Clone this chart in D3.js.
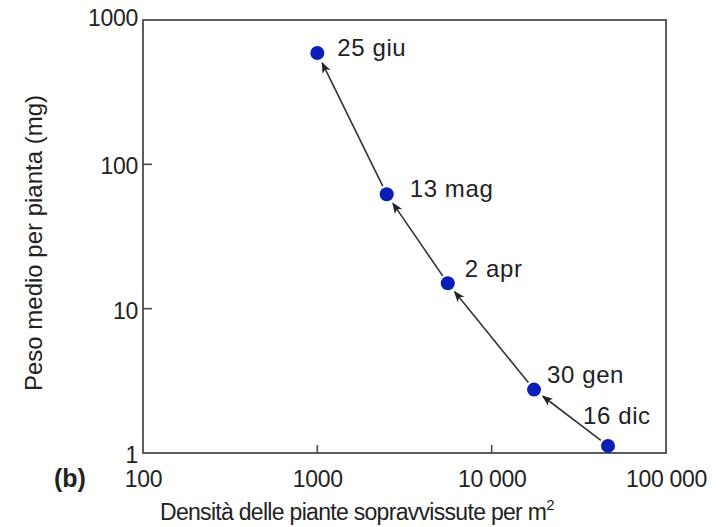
<!DOCTYPE html>
<html><head><meta charset="utf-8">
<script src="https://cdn.jsdelivr.net/npm/d3@7"></script>
<style>
body{margin:0;background:#fff;}
text{font-family:"Liberation Sans",Arial,Helvetica,sans-serif;fill:#222;}
</style></head>
<body>
<svg id="chart" width="722" height="527"></svg>
<script>
// Data (chronological order)
const dates = ["16 dic", "30 gen", "2 apr", "13 mag", "25 giu"];
const density = [46500, 17500, 5600, 2500, 1000];   // plants per m²
const weight = [1.12, 2.75, 15.0, 62, 590];          // mg per plant
const xTicks = [100, 1000, 10000, 100000];
const xTickLabels = ["100", "1000", "10 000", "100 000"];
const yTicks = [1, 10, 100, 1000];
const yTickLabels = ["1", "10", "100", "1000"];

// label placement (dx, dy from point)
const labelOffsets = [[-25, -30], [13, -15], [17, -15], [23, -6], [20, -5]];

const svg = d3.select("#chart");
const m = {l: 143, r: 666, t: 20, b: 453};
const x = d3.scaleLog().domain([100, 100000]).range([m.l, m.r]);
const y = d3.scaleLog().domain([1, 1000]).range([m.b, m.t]);

const frameColor = "#4d4d48";
const tickFs = 23;

// frame
svg.append("rect").attr("x", m.l).attr("y", m.t)
  .attr("width", m.r - m.l).attr("height", m.b - m.t)
  .attr("fill", "none").attr("stroke", frameColor).attr("stroke-width", 1.8);

// x ticks (inner)
const xAxis = svg.append("g").attr("transform", `translate(0,${m.b})`)
  .call(d3.axisBottom(x).tickValues(xTicks).tickSize(0).tickFormat((d, i) => xTickLabels[i]));
xAxis.select(".domain").remove();
xAxis.selectAll("text").attr("dy", null).attr("y", 34)
  .style("font-size", tickFs + "px").style("letter-spacing", "-0.3px").attr("fill", "#222");
svg.selectAll(".xin").data(xTicks.slice(1, -1)).enter().append("line")
  .attr("x1", d => x(d)).attr("x2", d => x(d)).attr("y1", m.b).attr("y2", m.b - 8)
  .attr("stroke", frameColor).attr("stroke-width", 1.6);

// y ticks (inner)
const yAxis = svg.append("g").attr("transform", `translate(${m.l},0)`)
  .call(d3.axisLeft(y).tickValues(yTicks).tickSize(0).tickFormat((d, i) => yTickLabels[i]));
yAxis.select(".domain").remove();
yAxis.selectAll("text").attr("x", -5).attr("y", d => d === 1000 ? -3 : 1.5).attr("dy", "0.35em")
  .style("font-size", tickFs + "px").style("letter-spacing", "-0.3px").attr("fill", "#222");
svg.selectAll(".yin").data(yTicks.slice(1, -1)).enter().append("line")
  .attr("y1", d => y(d)).attr("y2", d => y(d)).attr("x1", m.l).attr("x2", m.l + 9)
  .attr("stroke", frameColor).attr("stroke-width", 1.6);

// arrow marker
svg.append("defs").append("marker").attr("id", "arr")
  .attr("viewBox", "0 0 10 10").attr("refX", 9).attr("refY", 5)
  .attr("markerWidth", 11).attr("markerHeight", 11).attr("markerUnits", "userSpaceOnUse")
  .attr("orient", "auto")
  .append("path").attr("d", "M0,1 L10,5 L0,9 L2.5,5 Z").attr("fill", "#222");

// arrows between consecutive dates
const pts = dates.map((d, i) => [x(density[i]), y(weight[i])]);
for (let i = 0; i < pts.length - 1; i++) {
  const [x0, y0] = pts[i], [x1, y1] = pts[i + 1];
  const dx = x1 - x0, dy = y1 - y0, len = Math.hypot(dx, dy);
  const ux = dx / len, uy = dy / len;
  const s = 9, e = 11;
  svg.append("line")
    .attr("x1", x0 + ux * s).attr("y1", y0 + uy * s)
    .attr("x2", x1 - ux * e).attr("y2", y1 - uy * e)
    .attr("stroke", "#333").attr("stroke-width", 1.6)
    .attr("marker-end", "url(#arr)");
}

// points
svg.selectAll(".pt").data(dates).enter().append("circle")
  .attr("cx", (d, i) => x(density[i])).attr("cy", (d, i) => y(weight[i]))
  .attr("r", 7).attr("fill", "#0a1fb8");

// point labels
svg.selectAll(".lbl").data(dates).enter().append("text")
  .attr("x", (d, i) => x(density[i]) + labelOffsets[i][0])
  .attr("y", (d, i) => y(weight[i]) + labelOffsets[i][1])
  .attr("dy", "0.35em").style("font-size", "24px").style("letter-spacing", "0.6px").text(d => d);

// axis titles
const xt = svg.append("text").attr("x", 160).attr("y", 520)
  .style("font-size", "23px").style("letter-spacing", "-0.7px");
xt.append("tspan").text("Densità delle piante sopravvissute per m");
xt.append("tspan").attr("dy", -10).style("font-size", "15px").text("2");

svg.append("text").attr("transform", "translate(42,243) rotate(-90)")
  .attr("text-anchor", "middle").style("font-size", "24px")
  .text("Peso medio per pianta (mg)");

svg.append("text").attr("x", 54).attr("y", 487).style("font-size", "25px")
  .style("font-weight", "bold").text("(b)");
</script>
</body></html>
